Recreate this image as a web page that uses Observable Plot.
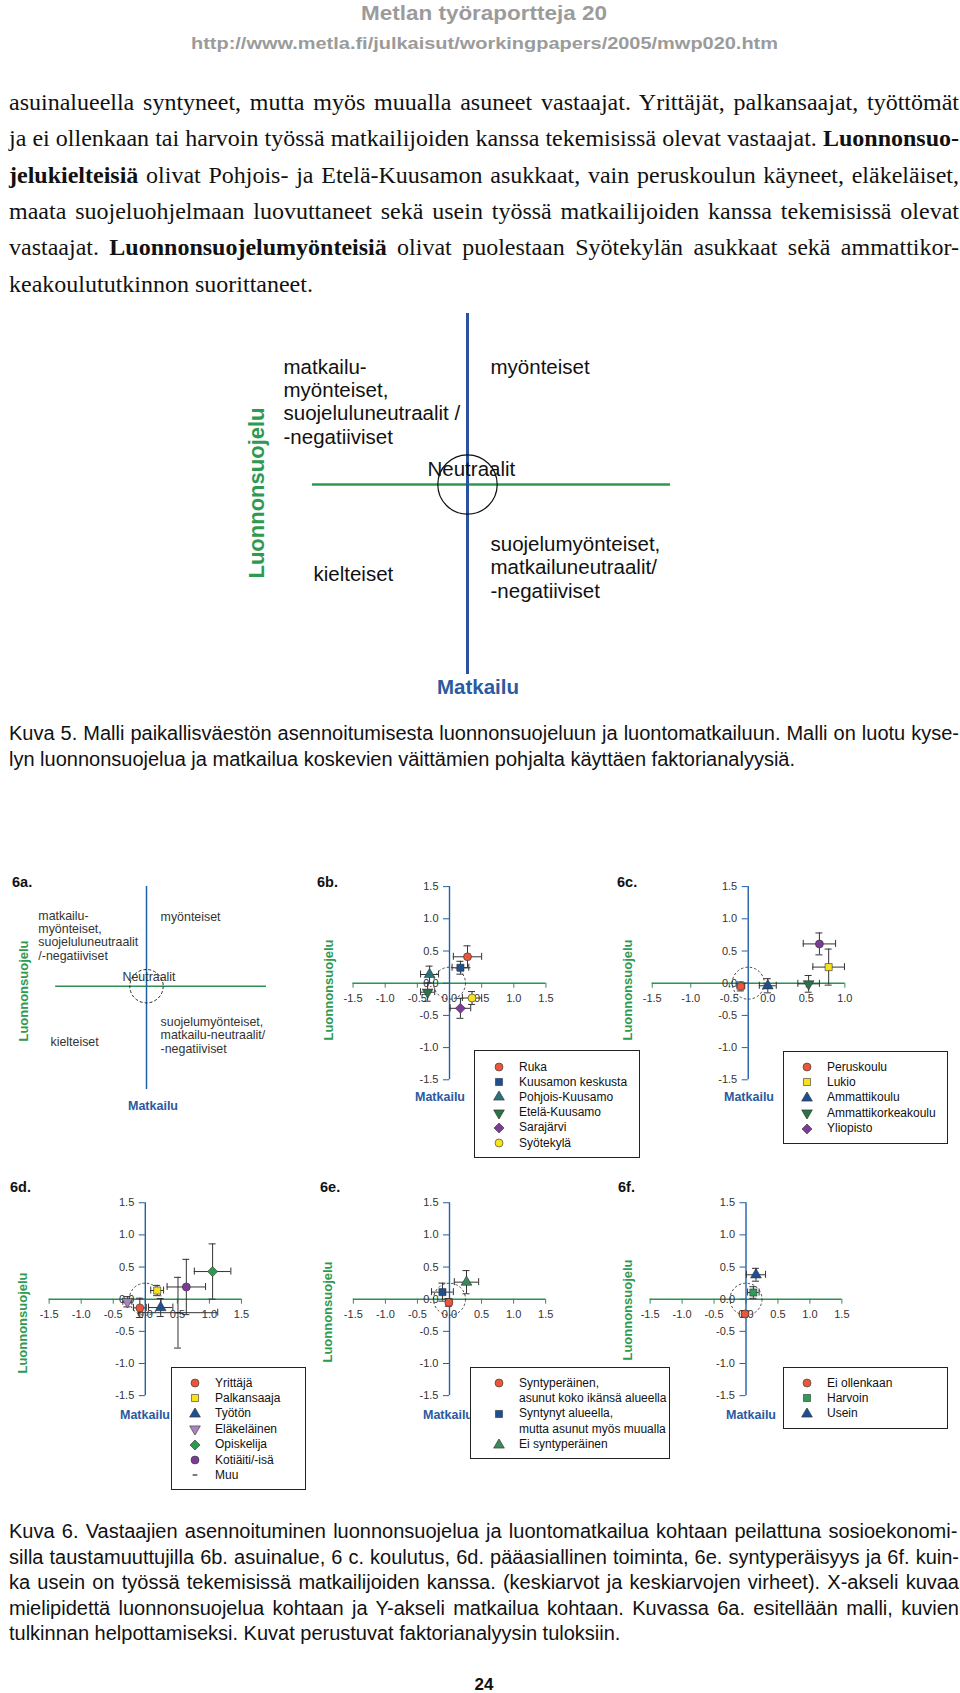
<!DOCTYPE html>
<html><head><meta charset="utf-8">
<script src="https://cdn.jsdelivr.net/npm/d3@7"></script>
<script src="https://cdn.jsdelivr.net/npm/@observablehq/plot@0.6"></script>
<style>
html,body{margin:0;padding:0;background:#fff;}
#page{position:relative;width:960px;height:1693px;overflow:hidden;background:#fff;}
.t{position:absolute;white-space:nowrap;line-height:1;}
.legend{position:absolute;border:1px solid #222;background:#fff;box-sizing:border-box;}
</style></head><body><div id="page"></div>
<script>
// ---------------- DATA ----------------
const headerTitle = "Metlan työraportteja 20";
const headerUrl = "http://www.metla.fi/julkaisut/workingpapers/2005/mwp020.htm";
const bodyLines = [
 "asuinalueella syntyneet, mutta myös muualla asuneet vastaajat. Yrittäjät, palkansaajat, työttömät",
 "ja ei ollenkaan tai harvoin työssä matkailijoiden kanssa tekemisissä olevat vastaajat. **Luonnonsuo-**",
 "**jelukielteisiä** olivat Pohjois- ja Etelä-Kuusamon asukkaat, vain peruskoulun käyneet, eläkeläiset,",
 "maata suojeluohjelmaan luovuttaneet sekä usein työssä matkailijoiden kanssa tekemisissä olevat",
 "vastaajat. **Luonnonsuojelumyönteisiä** olivat puolestaan Syötekylän asukkaat sekä ammattikor-",
 "keakoulututkinnon suorittaneet."
];
const caption5Lines = [
 "Kuva 5. Malli paikallisväestön asennoitumisesta luonnonsuojeluun ja luontomatkailuun. Malli on luotu kyse-",
 "lyn luonnonsuojelua ja matkailua koskevien väittämien pohjalta käyttäen faktorianalyysiä."
];
const caption6Lines = [
 "Kuva 6.  Vastaajien asennoituminen luonnonsuojelua ja luontomatkailua kohtaan peilattuna sosioekonomi-",
 "silla taustamuuttujilla 6b. asuinalue, 6 c. koulutus, 6d. pääasiallinen toiminta, 6e. syntyperäisyys ja 6f. kuin-",
 "ka usein on työssä tekemisissä matkailijoiden kanssa. (keskiarvot ja keskiarvojen virheet). X-akseli kuvaa",
 "mielipidettä luonnonsuojelua kohtaan ja Y-akseli matkailua kohtaan. Kuvassa 6a. esitellään malli, kuvien",
 "tulkinnan helpottamiseksi. Kuvat perustuvat faktorianalyysin tuloksiin."
];
const pageNumber = "24";
const xAxisTitle = "Luonnonsuojelu";
const yAxisTitle = "Matkailu";

// Figure 5 / 6a model (conceptual quadrant diagram, model units)
const modelLabels = ["matkailu-\nmyönteiset,\nsuojeluluneutraalit /\n-negatiiviset", "myönteiset", "Neutraalit", "suojelumyönteiset,\nmatkailuneutraalit/\n-negatiiviset", "kielteiset"];
const modelLabelX = [-1.84, 0.23, -0.40, 0.23, -1.54];
const modelLabelY = [0.41, 1.11, 0.09, -1.13, -0.96];
const modelHExtent = [-1.55, 2.03];
const modelVExtent = [-1.90, 1.71];

const model6aLabels = ["matkailu-\nmyönteiset,\nsuojeluluneutraalit\n/-negatiiviset", "myönteiset", "Neutraalit", "suojelumyönteiset,\nmatkailu-neutraalit/\n-negatiiviset", "kielteiset"];
const model6aX = [-1.69, 0.22, -0.375, 0.22, -1.50];
const model6aY = [0.417, 1.016, 0.089, -1.036, -0.927];
const model6aHExtent = [-1.42, 1.875];
const model6aVExtent = [-1.614, 1.558];

const ticks = [-1.5, -1.0, -0.5, 0.0, 0.5, 1.0, 1.5];
const ticks6c = [-1.5, -1.0, -0.5, 0.0, 0.5, 1.0];

// 6b asuinalue
const names6b = ["Ruka", "Kuusamon keskusta", "Pohjois-Kuusamo", "Etelä-Kuusamo", "Sarajärvi", "Syötekylä"];
const x6b  = [0.28, 0.17, -0.31, -0.34, 0.17, 0.35];
const y6b  = [0.41, 0.24, 0.135, -0.14, -0.39, -0.23];
const xe6b = [0.22, 0.13, 0.14, 0.11, 0.16, 0.15];
const ye6b = [0.17, 0.10, 0.13, 0.14, 0.155, 0.10];
// 6c koulutus
const names6c = ["Peruskoulu", "Lukio", "Ammattikoulu", "Ammattikorkeakoulu", "Yliopisto"];
const x6c  = [-0.35, 0.79, 0.0, 0.53, 0.67];
const y6c  = [-0.05, 0.25, -0.04, -0.01, 0.61];
const xe6c = [0.05, 0.205, 0.11, 0.14, 0.21];
const ye6c = [0.07, 0.28, 0.11, 0.13, 0.17];
const cross6c = -0.254;
// 6d pääasiallinen toiminta
const names6d = ["Yrittäjä", "Palkansaaja", "Työtön", "Eläkeläinen", "Opiskelija", "Kotiäiti/-isä", "Muu"];
const x6d  = [-0.085, 0.185, 0.24, -0.28, 1.05, 0.64, 0.51];
const y6d  = [-0.135, 0.135, -0.13, -0.04, 0.43, 0.19, -0.21];
const xe6d = [0.10, 0.10, 0.19, 0.07, 0.285, 0.30, 0.62];
const ye6d = [0.15, 0.08, 0.14, 0.08, 0.43, 0.43, 0.55];
// 6e syntyperäisyys
const names6e = ["Syntyperäinen,\nasunut koko ikänsä alueella", "Syntynyt alueella,\nmutta asunut myös muualla", "Ei syntyperäinen"];
const x6e  = [-0.01, -0.11, 0.265];
const y6e  = [-0.05, 0.11, 0.265];
const xe6e = [0.05, 0.17, 0.19];
const ye6e = [0.06, 0.14, 0.18];
// 6f työssä tekemisissä matkailijoiden kanssa
const names6f = ["Ei ollenkaan", "Harvoin", "Usein"];
const x6f  = [-0.016, 0.115, 0.156];
const y6f  = [-0.23, 0.104, 0.38];
const xe6f = [0.05, 0.09, 0.15];
const ye6f = [0.05, 0.09, 0.10];

// ---------------- STYLES ----------------
const RED = "#e8563c", BLUE = "#1d4f91", TEAL = "#2a7278", GREEN = "#2b7247", PURPLE = "#7b3c96",
      YELLOW = "#f6e11c", LAV = "#a985bd", BGREEN = "#2b9b4e", MGREEN = "#2f9a5a";
const AX_GREEN = "#2f8f55", AX_BLUE = "#2060a8", TITLE_GREEN = "#2e9a50", TITLE_BLUE = "#2b5aa0";
const col6b = [RED, BLUE, TEAL, GREEN, PURPLE, YELLOW];
const sym6b = ["circle", "square", "triangle", "triangleDown", "diamond", "circle"];
const col6c = [RED, YELLOW, BLUE, GREEN, PURPLE];
const sym6c = ["circle", "square", "triangle", "triangleDown", "circle"];
const leg6c = ["circle", "square", "triangle", "triangleDown", "diamond"];
const col6d = [RED, YELLOW, BLUE, LAV, BGREEN, PURPLE, "#222"];
const sym6d = ["circle", "square", "triangle", "triangleDown", "diamond", "circle", "dash"];
const col6e = [RED, BLUE, "#3a8a5c"];
const sym6e = ["circle", "square", "triangle"];
const col6f = [RED, MGREEN, BLUE];
const sym6f = ["circle", "square", "triangle"];

const SANS = "'Liberation Sans', Arial, Helvetica, sans-serif";
const SERIF = "'Liberation Serif', 'Times New Roman', serif";

const SYM = {
  circle: d3.symbolCircle,
  square: d3.symbolSquare,
  triangle: d3.symbolTriangle,
  triangleDown: {draw(ctx, size) { const s3 = Math.sqrt(3); const y = -Math.sqrt(size / (s3 * 3)); ctx.moveTo(0, -y * 2); ctx.lineTo(-s3 * y, y); ctx.lineTo(s3 * y, y); ctx.closePath(); }},
  diamond: {draw(ctx, size) { const r = Math.sqrt(size / 2); ctx.moveTo(0, -r); ctx.lineTo(r, 0); ctx.lineTo(0, r); ctx.lineTo(-r, 0); ctx.closePath(); }},
  dash: {draw(ctx, size) { const r = Math.sqrt(size) / 3; ctx.moveTo(-r, 0); ctx.lineTo(r, 0); }}
};

// ---------------- HELPERS ----------------
const page = document.getElementById("page");
const md = s => s.split("**").map((seg, i) => i % 2 ? `<b>${seg}</b>` : seg).join("");

function addText(o) {
  const el = document.createElement("div");
  el.className = "t";
  el.style.fontFamily = o.family || SANS;
  el.style.fontSize = o.size + "px";
  el.style.fontWeight = o.weight || "normal";
  el.style.color = o.color || "#111";
  if (o.html != null) el.innerHTML = o.html; else el.textContent = o.text;
  page.appendChild(el);
  const k = (o.family === SERIF) ? 0.8375 : 0.8465;
  el.style.top = (o.baseline - k * o.size) + "px";
  const w = el.getBoundingClientRect().width;
  if (o.justify) {
    const n = (el.textContent.match(/ /g) || []).length;
    if (n) {
      let ws = (o.justify - w) / n;
      if (ws < -1.5) {
        ws = -1.5;
        const w2 = w + ws * n;
        el.style.transform = `scaleX(${o.justify / w2})`;
        el.style.transformOrigin = "left center";
      }
      el.style.wordSpacing = ws + "px";
    }
  }
  let W = o.justify || w;
  if (o.fit) { el.style.transform = `scaleX(${o.fit / w})`; el.style.transformOrigin = "left center"; W = o.fit; }
  el.style.left = (o.anchor === "middle" ? o.x - W / 2 : o.x) + "px";
  return el;
}
function addRotated(text, cx, cy, size, color) {
  const el = addText({text, x: 0, baseline: 0, size, weight: "bold", color});
  el.style.left = cx + "px"; el.style.top = cy + "px";
  el.style.transform = "translate(-50%,-50%) rotate(-90deg)";
  return el;
}
function place(node, left, top) {
  const d = document.createElement("div");
  d.style.position = "absolute"; d.style.left = left + "px"; d.style.top = top + "px";
  d.appendChild(node); page.appendChild(d);
}
const plotStyle = {background: "none", overflow: "visible", fontFamily: SANS};
const fmt = d => d.toFixed(1);

// ---------------- TEXT ----------------
addText({text: headerTitle, x: 484, baseline: 20, size: 20, weight: "bold", color: "#9b9b9b", anchor: "middle", fit: 246});
addText({text: headerUrl, x: 484, baseline: 49, size: 17, weight: "bold", color: "#9b9b9b", anchor: "middle", fit: 587});

const bodyBase = [110, 146.5, 183, 219, 255.5, 292];
bodyLines.forEach((l, i) => addText({html: md(l), x: 9, baseline: bodyBase[i], size: 24, family: SERIF, color: "#111", justify: i < bodyLines.length - 1 ? 950 : null}));

const cap5Base = [740, 766];
caption5Lines.forEach((l, i) => addText({text: l, x: 9, baseline: cap5Base[i], size: 20, justify: i === 0 ? 950 : null}));
const cap6Base = [1538, 1564, 1589, 1615, 1640];
caption6Lines.forEach((l, i) => addText({text: l, x: 9, baseline: cap6Base[i], size: 20, justify: i < caption6Lines.length - 1 ? 950 : null}));
addText({text: pageNumber, x: 484, baseline: 1690, size: 17, weight: "bold", anchor: "middle"});

// ---------------- MODEL FIGURES ----------------
function modelPlot(L, labels, lx, ly, hExt, vExt, o) {
  const idx = d3.range(labels.length);
  return Plot.plot({
    width: L.width, height: L.height, margin: 0,
    x: {domain: [(L.left - L.ox) / L.u, (L.left + L.width - L.ox) / L.u], axis: null},
    y: {domain: [(L.oy - L.top - L.height) / L.u, (L.oy - L.top) / L.u], axis: null},
    style: plotStyle,
    marks: [
      Plot.ruleY([0], {x1: hExt[0], x2: hExt[1], stroke: o.green, strokeWidth: o.lw}),
      Plot.ruleX([0], {y1: vExt[0], y2: vExt[1], stroke: o.blue, strokeWidth: o.lw2}),
      Plot.dot([0], {x: () => 0, y: () => 0, r: o.r, stroke: "#111", fill: "none", strokeWidth: o.cw, strokeDasharray: o.dash}),
      Plot.text(idx, {x: i => lx[i], y: i => ly[i], text: i => labels[i], textAnchor: "start", lineAnchor: "bottom", fontSize: o.fs, lineHeight: o.lh, fill: o.color})
    ]
  });
}
const L5 = {left: 200, top: 290, width: 500, height: 420, ox: 467, oy: 484, u: 100};
place(modelPlot(L5, modelLabels, modelLabelX, modelLabelY, modelHExtent, modelVExtent,
  {green: "#2c9a4c", blue: "#2b52a0", lw: 2.6, lw2: 3, r: 29.7, cw: 1.2, dash: null, fs: 20.5, lh: 1.137, color: "#111"}), L5.left, L5.top);
addRotated(xAxisTitle, 257, 493, 22, TITLE_GREEN);
addText({text: yAxisTitle, x: 478, baseline: 689 + 5.5, size: 20.5, weight: "bold", color: TITLE_BLUE, anchor: "middle"});

const L6a = {left: 0, top: 870, width: 290, height: 240, ox: 146, oy: 985.7, u: 64};
place(modelPlot(L6a, model6aLabels, model6aX, model6aY, model6aHExtent, model6aVExtent,
  {green: AX_GREEN, blue: AX_BLUE, lw: 1.5, lw2: 1.5, r: 16.7, cw: 0.9, dash: "3,2", fs: 12.4, lh: 1.05, color: "#333"}), L6a.left, L6a.top);

// ---------------- DATA PANELS ----------------
function dataPanel(L, p) {
  const xd = [(L.left - L.ox) / L.ux, (L.left + L.width - L.ox) / L.ux];
  const yd = [(L.oy - L.top - L.height) / L.uy, (L.oy - L.top) / L.uy];
  const idx = d3.range(p.x.length);
  const cx = p.cross || 0;
  const capX = 3.5 / L.ux, capY = 3.5 / L.uy;
  const eb = {stroke: "#333", strokeWidth: 1};
  const marks = [
    Plot.ruleY([0], {x1: p.xt[0], x2: p.xt[p.xt.length - 1], stroke: AX_GREEN, strokeWidth: 1.4}),
    Plot.ruleX(p.xt, {x: d => d, y1: () => 0, y2: () => -5 / L.uy, stroke: AX_GREEN, strokeWidth: 1}),
    Plot.text(p.xt, {x: d => d, y: () => 0, dy: 15, text: fmt, fontSize: 11, fill: "#333"}),
    Plot.ruleX([cx], {y1: ticks[0], y2: ticks[ticks.length - 1], stroke: AX_BLUE, strokeWidth: 1.4}),
    Plot.ruleY(ticks, {y: d => d, x1: () => cx - 6 / L.ux, x2: () => cx, stroke: AX_BLUE, strokeWidth: 1}),
    Plot.text(ticks, {x: () => cx, y: d => d, dx: -11, textAnchor: "end", text: fmt, fontSize: 11, fill: "#333"}),
    Plot.dot([0], {x: () => cx, y: () => 0, r: 16, stroke: "#222", fill: "none", strokeWidth: 0.8, strokeDasharray: "2.5,2"}),
    Plot.ruleY(idx, {y: i => p.y[i], x1: i => p.x[i] - p.xe[i], x2: i => p.x[i] + p.xe[i], ...eb}),
    Plot.ruleX(idx, {x: i => p.x[i] - p.xe[i], y1: i => p.y[i] - capY, y2: i => p.y[i] + capY, ...eb}),
    Plot.ruleX(idx, {x: i => p.x[i] + p.xe[i], y1: i => p.y[i] - capY, y2: i => p.y[i] + capY, ...eb}),
    Plot.ruleX(idx, {x: i => p.x[i], y1: i => p.y[i] - p.ye[i], y2: i => p.y[i] + p.ye[i], ...eb}),
    Plot.ruleY(idx, {y: i => p.y[i] - p.ye[i], x1: i => p.x[i] - capX, x2: i => p.x[i] + capX, ...eb}),
    Plot.ruleY(idx, {y: i => p.y[i] + p.ye[i], x1: i => p.x[i] - capX, x2: i => p.x[i] + capX, ...eb}),
    ...idx.map(i => p.sym[i] === "dash"
      ? Plot.dot([i], {x: () => p.x[i], y: () => p.y[i], symbol: SYM.dash, r: 4, fill: "none", stroke: p.col[i], strokeWidth: 1.2})
      : Plot.dot([i], {x: () => p.x[i], y: () => p.y[i], symbol: SYM[p.sym[i]], r: 4, fill: p.col[i], stroke: "#333", strokeWidth: 0.6}))
  ];
  return Plot.plot({width: L.width, height: L.height, margin: 0,
    x: {domain: xd, axis: null}, y: {domain: yd, axis: null}, style: plotStyle, marks});
}
function legend(box, names, syms, cols) {
  const el = document.createElement("div");
  el.className = "legend";
  Object.assign(el.style, {left: box.left + "px", top: box.top + "px", width: box.width + "px", height: box.height + "px"});
  page.appendChild(el);
  let row = 0;
  names.forEach((name, i) => {
    const lines = name.split("\n");
    const cy = box.first + row * box.step;
    const svg = d3.create("svg").attr("width", 12).attr("height", 12)
      .style("position", "absolute").style("left", (box.mx - 6) + "px").style("top", (cy - 6) + "px");
    const path = d3.symbol(SYM[syms[i]], Math.PI * 16)();
    svg.append("path").attr("transform", "translate(6,6)").attr("d", path)
      .attr("fill", syms[i] === "dash" ? "none" : cols[i]).attr("stroke", syms[i] === "dash" ? cols[i] : "#333")
      .attr("stroke-width", syms[i] === "dash" ? 1.2 : 0.6);
    el.appendChild(svg.node());
    lines.forEach((ln, j) => {
      const t = document.createElement("div");
      t.className = "t"; t.textContent = ln;
      Object.assign(t.style, {fontFamily: SANS, fontSize: "12px", color: "#111", left: box.tx + "px", top: (cy + j * box.step - 6.5) + "px"});
      el.appendChild(t);
    });
    row += lines.length;
  });
}

const panels = [
  {L: {left: 340, top: 870, width: 220, height: 220, ox: 449, oy: 982.7, ux: 64.3, uy: 64.4},
   p: {x: x6b, y: y6b, xe: xe6b, ye: ye6b, col: col6b, sym: sym6b, xt: ticks},
   title: "6b.", tx: 317, ty: 882, gx: 328, gy: 990, mx: 440, my: 1097,
   leg: {left: 474, top: 1050, width: 166, height: 108, first: 16, step: 15.2, mx: 24, tx: 44}, names: names6b, lsym: sym6b},
  {L: {left: 630, top: 870, width: 230, height: 220, ox: 767.3, oy: 982.7, ux: 77.04, uy: 64.4},
   p: {x: x6c, y: y6c, xe: xe6c, ye: ye6c, col: col6c, sym: sym6c, xt: ticks6c, cross: cross6c},
   title: "6c.", tx: 617, ty: 882, gx: 627, gy: 990, mx: 749, my: 1097,
   leg: {left: 783, top: 1051, width: 165, height: 93, first: 15, step: 15.4, mx: 23, tx: 43}, names: names6c, lsym: leg6c},
  {L: {left: 30, top: 1185, width: 230, height: 225, ox: 144.8, oy: 1298.7, ux: 64.1, uy: 64.3},
   p: {x: x6d, y: y6d, xe: xe6d, ye: ye6d, col: col6d, sym: sym6d, xt: ticks},
   title: "6d.", tx: 10, ty: 1187, gx: 22, gy: 1323, mx: 145, my: 1415,
   leg: {left: 171, top: 1367, width: 135, height: 123, first: 15, step: 15.4, mx: 23, tx: 43}, names: names6d, lsym: sym6d},
  {L: {left: 340, top: 1185, width: 220, height: 225, ox: 449, oy: 1298.7, ux: 64.1, uy: 64.3},
   p: {x: x6e, y: y6e, xe: xe6e, ye: ye6e, col: col6e, sym: sym6e, xt: ticks},
   title: "6e.", tx: 320, ty: 1187, gx: 327, gy: 1312, mx: 448, my: 1415,
   leg: {left: 470, top: 1367, width: 200, height: 92, first: 15, step: 15.4, mx: 28, tx: 48}, names: names6e, lsym: sym6e},
  {L: {left: 630, top: 1185, width: 230, height: 225, ox: 745.5, oy: 1298.7, ux: 63.9, uy: 64.3},
   p: {x: x6f, y: y6f, xe: xe6f, ye: ye6f, col: col6f, sym: sym6f, xt: ticks},
   title: "6f.", tx: 618, ty: 1187, gx: 627, gy: 1310, mx: 751, my: 1415,
   leg: {left: 783, top: 1367, width: 165, height: 62, first: 15, step: 15.4, mx: 23, tx: 43}, names: names6f, lsym: sym6f}
];

// 6a labels
addText({text: "6a.", x: 12, baseline: 882 + 5.2, size: 14.5, weight: "bold", color: "#111"});
addRotated(xAxisTitle, 23, 991, 13, TITLE_GREEN);
addText({text: yAxisTitle, x: 153, baseline: 1106 + 4.6, size: 12.5, weight: "bold", color: TITLE_BLUE, anchor: "middle"});

panels.forEach(P => {
  place(dataPanel(P.L, P.p), P.L.left, P.L.top);
});
panels.forEach(P => {
  addText({text: P.title, x: P.tx, baseline: P.ty + 5.2, size: 14.5, weight: "bold", color: "#111"});
  addRotated(xAxisTitle, P.gx, P.gy, 13, TITLE_GREEN);
  addText({text: yAxisTitle, x: P.mx, baseline: P.my + 4.6, size: 12.5, weight: "bold", color: TITLE_BLUE, anchor: "middle"});
  legend(P.leg, P.names, P.lsym, P.p.col);
});
</script></body></html>
